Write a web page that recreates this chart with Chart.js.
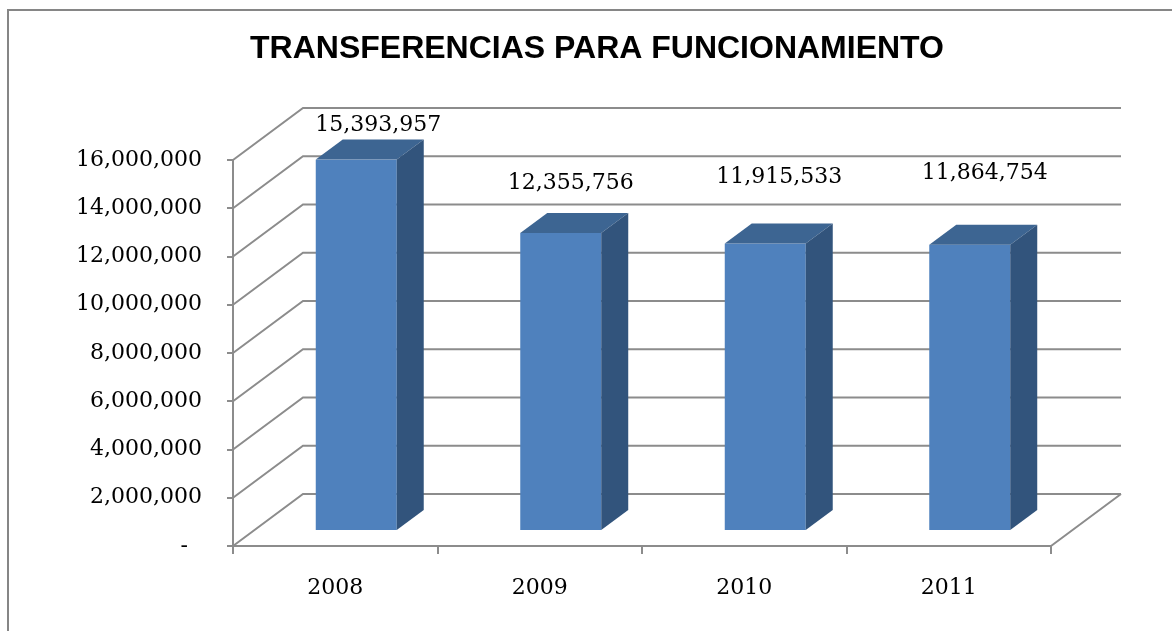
<!DOCTYPE html>
<html>
<head>
<meta charset="utf-8">
<script src="https://cdn.jsdelivr.net/npm/chart.js@4/dist/chart.umd.min.js"></script>
<style>
  html, body { margin: 0; padding: 0; background: #fff; }
  #wrap { width: 1172px; height: 631px; }
</style>
</head>
<body>
<div id="wrap"><canvas id="chart"></canvas></div>
<script>
const years = ["2008", "2009", "2010", "2011"];
const transfers = [15393957, 12355756, 11915533, 11864754];
const yMax = 16000000;
const yStep = 2000000;

const gridColor = "#8c8c8c";
const serif = "'DejaVu Serif', serif";

// fake 3D: back wall offset, bar position inside the depth, bar depth
const wall = { x: 70, y: -52 };
const barShift = { x: 21, y: -15 };
const barDepth = { x: 27, y: -20 };
const labelNudge = [[22, 34], [10, 50], [14, 66], [15, 71]];

const fmt = (v) => v.toLocaleString("en-US");

const box3d = {
  id: "box3d",
  afterLayout(chart) {
    // y labels are wider than the axis box (left padding keeps the title centred), so widen the label clip
    chart.scales.y.left = 0;
  },
  beforeDraw(chart) {
    const ctx = chart.ctx;
    ctx.save();
    ctx.strokeStyle = "#868686";
    ctx.lineWidth = 2;
    ctx.strokeRect(8, 10, 1200, 700);
    ctx.restore();
  },
  beforeDatasetsDraw(chart) {
    const { ctx, chartArea: a, scales: { y } } = chart;
    ctx.save();
    ctx.strokeStyle = gridColor;
    ctx.lineWidth = 2;
    ctx.beginPath();
    y.ticks.forEach((t) => {
      const py = y.getPixelForValue(t.value);
      ctx.moveTo(a.left, py);
      ctx.lineTo(a.left + wall.x, py + wall.y);
      ctx.lineTo(a.right + wall.x, py + wall.y);
    });
    ctx.moveTo(a.right, a.bottom);
    ctx.lineTo(a.right + wall.x, a.bottom + wall.y);
    ctx.stroke();
    ctx.restore();
  },
  afterDatasetsDraw(chart) {
    const ctx = chart.ctx;
    const meta = chart.getDatasetMeta(0);
    ctx.save();
    meta.data.forEach((bar, i) => {
      const { x, y, base, width } = bar.getProps(["x", "y", "base", "width"], true);
      const l = x - width / 2 + barShift.x;
      const r = l + width;
      const t = y + barShift.y;
      const b = base + barShift.y;

      ctx.fillStyle = "#4f81bd";
      ctx.fillRect(l, t, width, b - t);

      ctx.fillStyle = "#3d6592";
      ctx.beginPath();
      ctx.moveTo(l, t);
      ctx.lineTo(l + barDepth.x, t + barDepth.y);
      ctx.lineTo(r + barDepth.x, t + barDepth.y);
      ctx.lineTo(r, t);
      ctx.closePath();
      ctx.fill();

      ctx.fillStyle = "#32547c";
      ctx.beginPath();
      ctx.moveTo(r, t);
      ctx.lineTo(r + barDepth.x, t + barDepth.y);
      ctx.lineTo(r + barDepth.x, b + barDepth.y);
      ctx.lineTo(r, b);
      ctx.closePath();
      ctx.fill();

      ctx.fillStyle = "#000";
      ctx.font = "22px " + serif;
      ctx.textAlign = "center";
      ctx.textBaseline = "middle";
      ctx.fillText(fmt(transfers[i]), x + barShift.x + labelNudge[i][0], t - labelNudge[i][1]);
    });
    ctx.restore();
  },
};

new Chart(document.getElementById("chart"), {
  type: "bar",
  data: {
    labels: years,
    datasets: [
      {
        data: transfers,
        backgroundColor: "rgba(0,0,0,0)",
        barPercentage: 0.396,
        categoryPercentage: 1,
      },
    ],
  },
  options: {
    responsive: true,
    maintainAspectRatio: false,
    animation: false,
    layout: { padding: { left: 143, right: 121, top: 0, bottom: 0 } },
    plugins: {
      legend: { display: false },
      tooltip: { enabled: false },
      title: {
        display: true,
        text: "TRANSFERENCIAS PARA FUNCIONAMIENTO",
        color: "#000",
        font: { family: "'Liberation Sans', Arial, sans-serif", size: 32, weight: "bold", lineHeight: 1.2 },
        padding: { top: 30, bottom: 91.6 },
      },
    },
    scales: {
      x: {
        afterFit: (s) => { s.height = 85; },
        grid: { drawOnChartArea: false, drawTicks: true, tickLength: 8, color: gridColor, lineWidth: 2 },
        border: { display: true, color: gridColor, width: 2 },
        ticks: { color: "#000", padding: 21, font: { family: serif, size: 22 } },
      },
      y: {
        min: 0,
        max: yMax,
        afterFit: (s) => { s.width = 90; },
        grid: { drawOnChartArea: false, drawTicks: true, tickLength: 6, color: gridColor, lineWidth: 2 },
        border: { display: true, color: gridColor, width: 2 },
        ticks: {
          stepSize: yStep,
          color: "#000",
          padding: 25,
          font: { family: serif, size: 22 },
          callback: (v) => (v === 0 ? "-  " : fmt(v)),
        },
      },
    },
  },
  plugins: [box3d],
});
</script>
</body>
</html>
